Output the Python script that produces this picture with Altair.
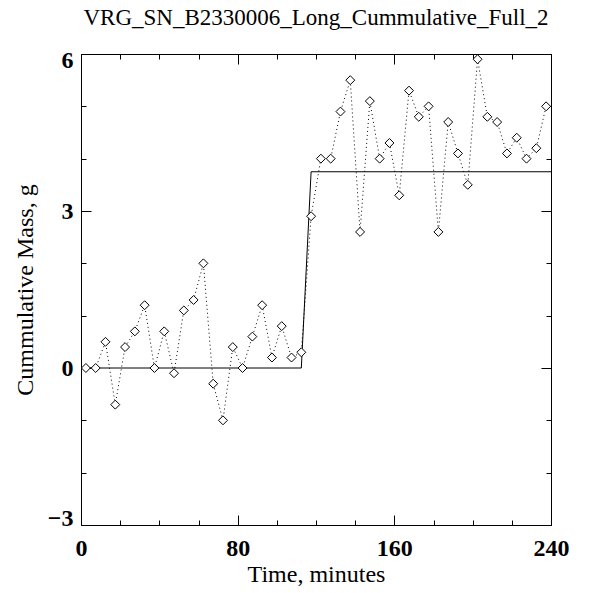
import altair as alt
import pandas as pd

# measured data: time (minutes) and cumulative mass (g)
times = [2.5, 7.5, 12.5, 17.5, 22.5, 27.5, 32.5, 37.5, 42.5, 47.5, 52.5, 57.5,
         62.5, 67.5, 72.5, 77.5, 82.5, 87.5, 92.5, 97.5, 102.5, 107.5, 112.5, 117.5,
         122.5, 127.5, 132.5, 137.5, 142.5, 147.5, 152.5, 157.5, 162.5, 167.5, 172.5, 177.5,
         182.5, 187.5, 192.5, 197.5, 202.5, 207.5, 212.5, 217.5, 222.5, 227.5, 232.5, 237.5]
mass = [0.0, 0.0, 0.5, -0.7, 0.4, 0.7, 1.2, 0.0, 0.7, -0.1, 1.1, 1.3,
        2.0, -0.3, -1.0, 0.4, 0.0, 0.6, 1.2, 0.2, 0.8, 0.2, 0.3, 2.9,
        4.0, 4.0, 4.9, 5.5, 2.6, 5.1, 4.0, 4.3, 3.3, 5.3, 4.8, 5.0,
        2.6, 4.7, 4.1, 3.5, 5.9, 4.8, 4.7, 4.1, 4.4, 4.0, 4.2, 5.0]

# step fit
fit_t = [0, 112.5, 117.5, 240]
fit_v = [0.0, 0.0, 3.75, 3.75]

x_major = [0, 80, 160, 240]
x_minor = [0, 20, 40, 60, 80, 100, 120, 140, 160, 180, 200, 220, 240]
y_major = [-3, 0, 3, 6]
y_minor = [-3, -2, -1, 0, 1, 2, 3, 4, 5, 6]

W, H = 470, 471
FONT = "Liberation Serif"

pts = pd.DataFrame({"t": times, "v": mass})
fit = pd.DataFrame({"t": fit_t, "v": fit_v})

xs = alt.Scale(domain=[0, 240], nice=False, zero=False)
ys = alt.Scale(domain=[-3, 6], nice=False, zero=False)


def tick_axis(orient, offset, values, size, domain=False):
    return alt.Axis(orient=orient, offset=offset, values=values, tickSize=size,
                    labels=False, title=None, grid=False, domain=domain,
                    domainColor="black", tickColor="black", tickWidth=1)


# layer 1: step fit + labelled axes
l1 = alt.Chart(fit).mark_line(color="black", strokeWidth=1).encode(
    x=alt.X("t:Q", scale=xs, axis=alt.Axis(
        orient="bottom", values=x_major, ticks=False, tickSize=0, labelPadding=11,
        title="Time, minutes", titlePadding=2, grid=False, domain=True,
        domainColor="black", labelFlush=False, labelOverlap=False)),
    y=alt.Y("v:Q", scale=ys, axis=alt.Axis(
        orient="left", values=y_major, ticks=False, tickSize=0, labelPadding=8,
        title="Cummulative Mass, g", titlePadding=10, grid=False, domain=True,
        domainColor="black", labelFlush=True, labelFlushOffset=5.5,
        labelOverlap=False)),
)

# layer 2: dotted connecting line + inward major ticks (bottom/left)
l2 = alt.Chart(pts).mark_line(color="black", strokeWidth=1, strokeDash=[1, 3]).encode(
    x=alt.X("t:Q", scale=xs, axis=tick_axis("top", -H, x_major, 10)),
    y=alt.Y("v:Q", scale=ys, axis=tick_axis("right", -W, y_major, 10)),
)

# layer 3: diamonds + inward minor ticks (bottom/left)
l3 = alt.Chart(pts).mark_point(shape="diamond", size=80, filled=True, fill="white",
                               stroke="black", strokeWidth=1, opacity=1).encode(
    x=alt.X("t:Q", scale=xs, axis=tick_axis("top", -H, x_minor, 5)),
    y=alt.Y("v:Q", scale=ys, axis=tick_axis("right", -W, y_minor, 5)),
)

# layer 4/5: carry top/right frame axes
l4 = alt.Chart(pts).mark_point(opacity=0).encode(
    x=alt.X("t:Q", scale=xs, axis=tick_axis("bottom", -H, x_major, 10, domain=True)),
    y=alt.Y("v:Q", scale=ys, axis=tick_axis("left", -W, y_major, 10, domain=True)),
)
l5 = alt.Chart(pts).mark_point(opacity=0).encode(
    x=alt.X("t:Q", scale=xs, axis=tick_axis("bottom", -H, x_minor, 5)),
    y=alt.Y("v:Q", scale=ys, axis=tick_axis("left", -W, y_minor, 5)),
)

chart = alt.layer(l1, l2, l3, l4, l5).resolve_axis(
    x="independent", y="independent"
).properties(
    width=W, height=H,
    background="white",
    title=alt.TitleParams("VRG_SN_B2330006_Long_Cummulative_Full_2", font=FONT,
                          fontSize=23, fontWeight="normal", color="black",
                          anchor="middle", baseline="alphabetic", offset=1),
    autosize=alt.AutoSizeParams(type="none"),
    padding={"left": 73, "top": 46, "right": 40, "bottom": 62},
).configure_view(stroke=None).configure_axis(
    labelFont=FONT, labelFontSize=24, labelFontWeight="bold", labelColor="black",
    titleFont=FONT, titleFontSize=24, titleFontWeight="normal", titleColor="black",
)

chart.save("out.html", embed_options={"renderer": "svg", "actions": False})
